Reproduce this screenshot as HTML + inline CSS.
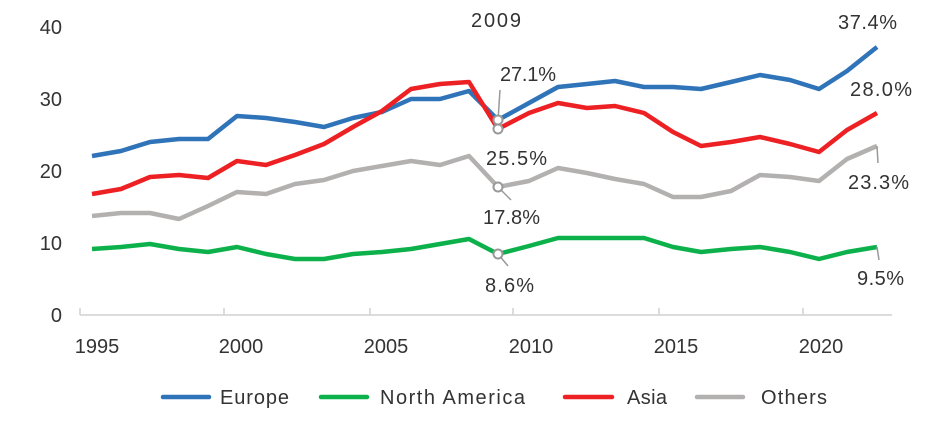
<!DOCTYPE html>
<html><head><meta charset="utf-8"><style>
html,body{margin:0;padding:0;background:#fff;}
svg text{font-family:"Liberation Sans",sans-serif;fill:#333;font-size:20px;}
.l{font-size:22px;}
</style></head><body>
<svg width="947" height="424" viewBox="0 0 947 424">
<g>
<text x="62" y="34" text-anchor="end">40</text>
<text x="62" y="106" text-anchor="end">30</text>
<text x="62" y="178" text-anchor="end">20</text>
<text x="62" y="250" text-anchor="end">10</text>
<text x="62" y="322" text-anchor="end">0</text>
</g>
<g stroke="#d0d0d0" stroke-width="1.5" fill="none">
<line x1="80" y1="315" x2="892" y2="315"/>
<line x1="80" y1="308" x2="80" y2="315"/>
<line x1="224" y1="308" x2="224" y2="315"/>
<line x1="370" y1="308" x2="370" y2="315"/>
<line x1="513" y1="308" x2="513" y2="315"/>
<line x1="659" y1="308" x2="659" y2="315"/>
<line x1="803" y1="308" x2="803" y2="315"/>
</g>
<g text-anchor="middle">
<text x="97" y="353">1995</text>
<text x="241" y="353">2000</text>
<text x="386" y="353">2005</text>
<text x="531" y="353">2010</text>
<text x="676" y="353">2015</text>
<text x="821" y="353">2020</text>
</g>
<g fill="none" stroke-width="4.5" stroke-linejoin="round">
<polyline stroke="#b3b0b0" points="92,216 121,213 150,213 179,219 208,206 237,192 266,194 295,184 324,180 353,171 382,166 411,161 440,165 469,156 498,187 529,181 558,168 587,173 615,179 644,184 673,197 701,197 731,191 760,175 790,177 819,181 847,159 877,146"/>
<polyline stroke="#0db14b" points="92,249 121,247 150,244 179,249 208,252 237,247 266,254 295,259 324,259 353,254 382,252 411,249 440,244 469,239 498,254 529,246 558,238 587,238 615,238 644,238 673,247 701,252 731,249 760,247 790,252 819,259 847,252 877,247"/>
<polyline stroke="#2f73b8" points="92,156 121,151 150,142 179,139 208,139 237,116 266,118 295,122 324,127 353,118 382,112 411,99 440,99 469,91 498,120 529,103 558,87 587,84 615,81 644,87 673,87 701,89 731,82 760,75 790,80 819,89 847,71 877,47"/>
<polyline stroke="#ed2024" points="92,194 121,189 150,177 179,175 208,178 237,161 266,165 295,155 324,144 353,127 382,111 411,89 440,84 469,82 498,129 529,113 558,103 587,108 615,106 644,113 673,132 701,146 731,142 760,137 790,144 819,152 847,130 877,113"/>
</g>
<g stroke="#999" stroke-width="1.5" fill="none">
<line x1="498" y1="120" x2="500" y2="90"/>
<line x1="498" y1="187" x2="511" y2="200"/>
<line x1="498" y1="254" x2="508" y2="266"/>
<line x1="877" y1="146" x2="878" y2="163"/>
<line x1="877" y1="247" x2="879" y2="260"/>
</g>
<g stroke="#999" stroke-width="2" fill="#fff">
<circle cx="498" cy="120" r="4.5"/>
<circle cx="498" cy="129" r="4.5"/>
<circle cx="498" cy="187" r="4.5"/>
<circle cx="498" cy="254" r="4.5"/>
</g>
<g class="l">
<text x="471" y="27" textLength="50">2009</text>
<text x="500" y="81" textLength="56">27.1%</text>
<text x="486" y="165" textLength="61">25.5%</text>
<text x="483" y="224" textLength="57">17.8%</text>
<text x="485" y="292" textLength="49">8.6%</text>
<text x="838" y="29" textLength="59">37.4%</text>
<text x="850" y="96" textLength="62">28.0%</text>
<text x="848" y="189" textLength="61">23.3%</text>
<text x="857" y="285" textLength="47">9.5%</text>
</g>
<g stroke-width="4.5" stroke-linecap="round">
<line x1="163" y1="397" x2="209" y2="397" stroke="#2f73b8"/>
<line x1="321" y1="397" x2="367" y2="397" stroke="#0db14b"/>
<line x1="565" y1="397" x2="612" y2="397" stroke="#ed2024"/>
<line x1="697" y1="397" x2="743" y2="397" stroke="#b3b0b0"/>
</g>
<g class="l">
<text x="220" y="404" textLength="69">Europe</text>
<text x="380" y="404" textLength="145">North America</text>
<text x="627" y="404" textLength="40">Asia</text>
<text x="761" y="404" textLength="66">Others</text>
</g>
</svg>
</body></html>
